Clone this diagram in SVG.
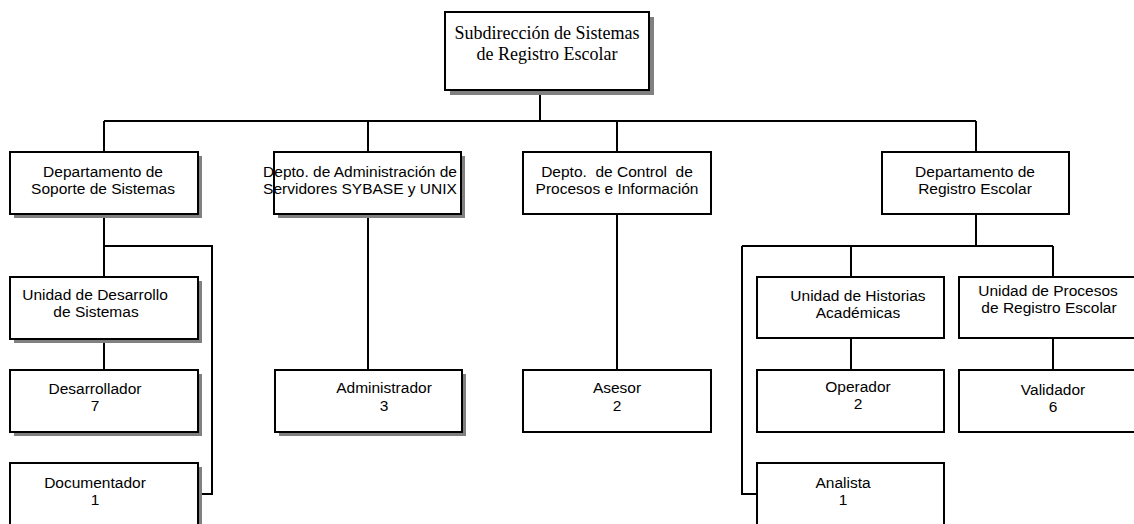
<svg xmlns="http://www.w3.org/2000/svg" width="1134" height="524" viewBox="0 0 1134 524">
<style>
.box{fill:#fff;stroke:#000;stroke-width:2}
.sh{fill:#808080}
.t{font-family:"Liberation Sans",Arial,sans-serif;font-size:15.5px;fill:#000;text-anchor:middle}
.ts{font-family:"Liberation Serif","Times New Roman",serif;font-size:18px;fill:#000;text-anchor:middle}
.ln{fill:none;stroke:#000;stroke-width:2}
</style>
<rect width="1134" height="524" fill="#fff"/>
<g id="connectors">
<path class="ln" d="M540 90V121M104 121H976M104 121V152M368 121V152M617 121V152M976 121V152"/>
<path class="ln" d="M104 214V277M104 246H212V494H198M104 339V370"/>
<path class="ln" d="M368 214V370"/>
<path class="ln" d="M617 214V370"/>
<path class="ln" d="M976 214V246M742 246H1053M742 246V494H757M851 246V277M1053 246V277M851 338V370M1053 338V370"/>
</g>
<g id="n-sub">
<rect class="sh" x="450" y="17" width="204" height="78"/>
<rect class="box" x="445" y="12" width="204" height="78"/>
<text class="ts" x="547" y="39">Subdirección de Sistemas</text>
<text class="ts" x="547" y="60">de Registro Escolar</text>
</g>
<g id="n-soporte">
<rect class="sh" x="14" y="156" width="188" height="62"/>
<rect class="box" x="10" y="152" width="188" height="62"/>
<text class="t" x="103" y="177">Departamento de</text>
<text class="t" x="103" y="194">Soporte de Sistemas</text>
</g>
<g id="n-admin-serv">
<rect class="sh" x="278" y="156" width="187" height="62"/>
<rect class="box" x="274" y="152" width="187" height="62"/>
<text class="t" x="360" y="177">Depto. de Administración de</text>
<text class="t" x="360" y="194">Servidores SYBASE y UNIX</text>
</g>
<g id="n-control">
<rect class="box" x="523" y="152" width="188" height="62"/>
<text class="t" x="617" y="177" xml:space="preserve">Depto.  de Control  de</text>
<text class="t" x="617" y="194">Procesos e Información</text>
</g>
<g id="n-registro">
<rect class="box" x="882" y="152" width="187" height="62"/>
<text class="t" x="975" y="177">Departamento de</text>
<text class="t" x="975" y="194">Registro Escolar</text>
</g>
<g id="n-unidad-des">
<rect class="sh" x="14" y="281" width="188" height="62"/>
<rect class="box" x="10" y="277" width="188" height="62"/>
<text class="t" x="95" y="300">Unidad de Desarrollo</text>
<text class="t" x="96" y="317">de Sistemas</text>
</g>
<g id="n-desarrollador">
<rect class="sh" x="14" y="374" width="188" height="62"/>
<rect class="box" x="10" y="370" width="188" height="62"/>
<text class="t" x="95" y="394">Desarrollador</text>
<text class="t" x="95" y="411">7</text>
</g>
<g id="n-documentador">
<rect class="sh" x="14" y="467" width="188" height="62"/>
<rect class="box" x="10" y="463" width="188" height="62"/>
<text class="t" x="95" y="488">Documentador</text>
<text class="t" x="95" y="505">1</text>
</g>
<g id="n-administrador">
<rect class="sh" x="279" y="374" width="187" height="62"/>
<rect class="box" x="275" y="370" width="187" height="62"/>
<text class="t" x="384" y="393">Administrador</text>
<text class="t" x="384" y="411">3</text>
</g>
<g id="n-asesor">
<rect class="box" x="523" y="370" width="188" height="62"/>
<text class="t" x="617" y="393">Asesor</text>
<text class="t" x="617" y="411">2</text>
</g>
<g id="n-historias">
<rect class="box" x="757" y="277" width="187" height="61"/>
<text class="t" x="858" y="301">Unidad de Historias</text>
<text class="t" x="858" y="318">Académicas</text>
</g>
<g id="n-procesos">
<rect class="box" x="959" y="277" width="187" height="61"/>
<text class="t" x="1048" y="296">Unidad de Procesos</text>
<text class="t" x="1049" y="313">de Registro Escolar</text>
</g>
<g id="n-operador">
<rect class="box" x="757" y="370" width="187" height="62"/>
<text class="t" x="858" y="392">Operador</text>
<text class="t" x="858" y="409">2</text>
</g>
<g id="n-validador">
<rect class="box" x="959" y="370" width="187" height="62"/>
<text class="t" x="1053" y="395">Validador</text>
<text class="t" x="1053" y="412">6</text>
</g>
<g id="n-analista">
<rect class="box" x="757" y="463" width="187" height="62"/>
<text class="t" x="843" y="488">Analista</text>
<text class="t" x="843" y="505">1</text>
</g>
</svg>
